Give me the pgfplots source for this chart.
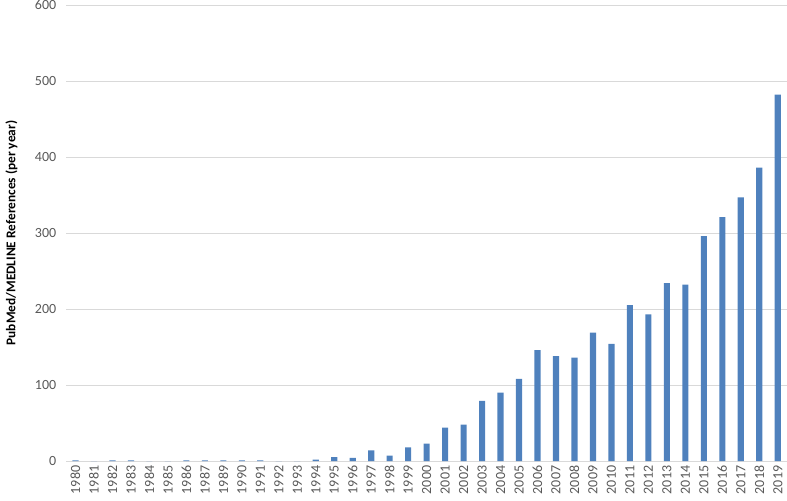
\documentclass[border=0pt]{standalone}
\usepackage{pgfplots}
\pgfplotsset{compat=1.18}
\usepackage{fontspec}
\setmainfont{Carlito}
\definecolor{barblue}{HTML}{4F81BD}
\definecolor{gridgray}{HTML}{D9D9D9}
\definecolor{ticktext}{HTML}{595959}

\begin{document}
\begin{tikzpicture}
% page frame: 787 x 500 px at 0.75pt per px
\path[use as bounding box] (-49.7pt,-29.25pt) rectangle (540.5pt,345.75pt);
\begin{axis}[
    scale only axis,
    width=540.5pt, height=342pt,
    ybar, bar width=4.6pt,
    xmin=-0.5, xmax=38.5,
    ymin=0, ymax=600,
    ytick={0,100,200,300,400,500,600},
    xtick=data,
    xticklabels={1980,1981,1982,1983,1984,1985,1986,1987,1989,1990,1991,1992,1993,1994,1995,1996,1997,1998,1999,2000,2001,2002,2003,2004,2005,2006,2007,2008,2009,2010,2011,2012,2013,2014,2015,2016,2017,2018,2019},
    major tick length=0pt,
    axis line style={draw=none},
    ymajorgrids=true,
    grid style={gridgray, line width=0.75pt},
    tick label style={font=\fontsize{10.5}{12}\selectfont, text=ticktext},
    /pgf/number format/assume math mode=true,
    x tick label style={rotate=90, anchor=east},
    y tick label style={xshift=-4pt},
    ylabel={PubMed/MEDLINE References (per year)},
    ylabel style={font=\bfseries\fontsize{10}{12}\selectfont, at={(axis description cs:0,0.5)}, anchor=south, yshift=33pt},
]
\addplot[fill=barblue, draw=none] coordinates {
(0,1) (1,0) (2,1) (3,1) (4,0) (5,0) (6,1) (7,1) (8,1) (9,1)
(10,1) (11,0) (12,0) (13,2) (14,5) (15,4) (16,14) (17,7) (18,18) (19,23)
(20,44) (21,48) (22,79) (23,90) (24,108) (25,146) (26,138) (27,136) (28,169) (29,154)
(30,205) (31,193) (32,234) (33,232) (34,296) (35,321) (36,347) (37,386) (38,482)
};
\end{axis}
\end{tikzpicture}
\end{document}
